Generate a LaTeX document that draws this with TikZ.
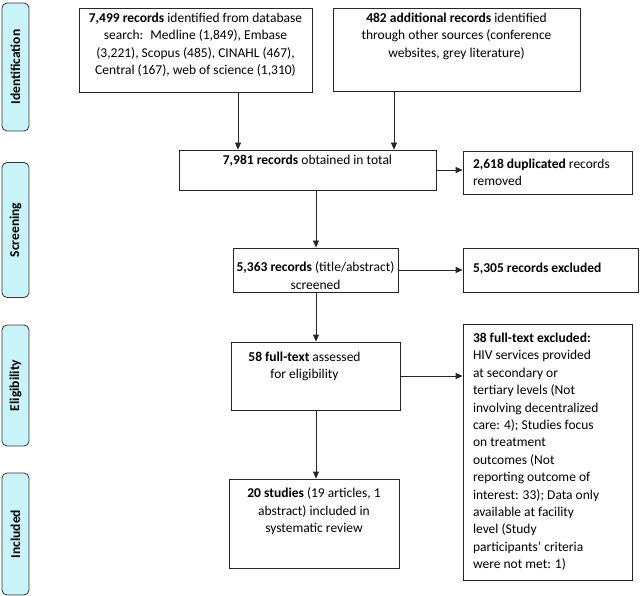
\documentclass[tikz,border=0pt]{standalone}
\usepackage{fontspec}
\setmainfont{Carlito}
\usetikzlibrary{arrows.meta}
\definecolor{phasefill}{RGB}{200,243,248}
\newcommand{\recbody}[4]{\parbox[c][#2][t]{#1}{\vspace*{#3}#4}}

\begin{document}
\begin{tikzpicture}[x=1pt,y=-1pt,
	rec/.style={draw=black!85, line width=0.8pt, inner xsep=6pt, inner ysep=0pt, font=\fontsize{13.5}{17.4}\selectfont},
	recl/.style={rec, inner xsep=10pt},
	phase/.style={draw=black!80, line width=0.8pt, fill=phasefill, rounded corners=5pt, rotate=90, minimum height=27pt, inner sep=0pt, font=\bfseries\fontsize{13.5}{16}\selectfont},
	arr/.style={-{Triangle[length=7pt,width=6pt]}, line width=0.8pt, black!85}]
				%%%%% START %%%%%
				\useasboundingbox (0,0) rectangle (640,596);

				\node[phase, minimum width=128pt] (idph) at (15.5,67) {Identification};
				\node[phase, minimum width=135pt] (scph) at (15.5,230) {Screening};
				\node[phase, minimum width=121pt] (elph) at (15.5,385.5) {Eligibility};
				\node[phase, minimum width=122pt] (inph) at (15.5,534) {Included};

				\node[rec] (ident) at (195.5,50) {\recbody{221pt}{84pt}{5pt}{\centering\textbf{7,499 records} identified from database\\ search:~ Medline (1,849), Embase\\ (3,221), Scopus (485), CINAHL (467),\\ Central (167), web of science (1,310)}};
				\node[rec] (other) at (456.5,49.5) {\recbody{235pt}{83pt}{5pt}{\centering\textbf{482 additional records} identified\\ through other sources (conference\\ websites, grey literature)}};
				\node[rec] (total) at (307.5,170) {\recbody{245pt}{40pt}{5pt}{\centering\textbf{7,981 records} obtained in total}};
				\node[recl] (dup) at (547.5,172.5) {\recbody{149pt}{43pt}{8pt}{\raggedright\textbf{2,618 duplicated} records\\ removed}};
				\node[rec, inner xsep=0pt] (screen) at (315.5,270) {\recbody{165pt}{44pt}{14pt}{\centering\textbf{5,363 records} (title/abstract)\\ screened}};
				\node[recl] (excl) at (550.5,270) {\recbody{155pt}{44pt}{15pt}{\raggedright\textbf{5,305 records excluded}}};
				\node[rec] (full) at (315.5,376) {\recbody{157pt}{68pt}{10pt}{\centering\rightskip=22pt plus 1fil\textbf{58 full-text} assessed\\ for eligibility}};
				\node[recl] (ftex) at (547.5,452) {\recbody{149pt}{256pt}{9pt}{\raggedright\textbf{38 full-text excluded:}\\ HIV services provided\\ at secondary or\\ tertiary levels (Not\\ involving decentralized\\ care: 4); Studies focus\\ on treatment\\ outcomes (Not\\ reporting outcome of\\ interest: 33); Data only\\ available at facility\\ level (Study\\ participants’ criteria\\ were not met: 1)}};
				\node[rec] (incl) at (314,523.5) {\recbody{158pt}{89pt}{9pt}{\centering\textbf{20 studies} (19 articles, 1\\ abstract) included in\\ systematic review}};

				\coordinate (aL) at (238,0);
				\coordinate (aR) at (394,0);
				\coordinate (aM) at (316,0);

				\draw[arr] (ident.south -| aL) -- (total.north -| aL);
				\draw[arr] (other.south -| aR) -- (total.north -| aR);
				\draw[arr] (total.south -| aM) -- (screen.north -| aM);
				\draw[arr] (total.east) -- (total.east -| dup.west);
				\draw[arr] (screen.east) -- (screen.east -| excl.west);
				\draw[arr] (screen.south -| aM) -- (full.north -| aM);
				\draw[arr] (full.east) -- (full.east -| ftex.west);
				\draw[arr] (full.south -| aM) -- (incl.north -| aM);
				%%%%% END %%%%%
\end{tikzpicture}
\end{document}
